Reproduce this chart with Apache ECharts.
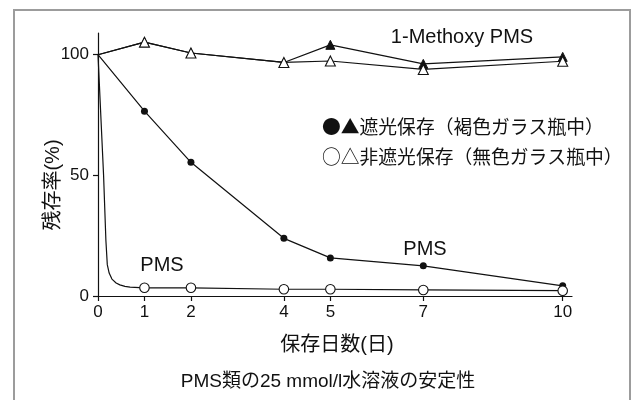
<!DOCTYPE html>
<html>
<head>
<meta charset="utf-8">
<script src="https://cdn.jsdelivr.net/npm/echarts@6/dist/echarts.min.js"></script>
<style>
  html, body { margin: 0; padding: 0; background: #fff; }
  #chart { width: 632px; height: 400px; }
</style>
</head>
<body>
<div id="chart"></div>
<script>
// Storage days at which samples were measured
const days = [0, 1, 2, 4, 5, 7, 10];
// Residual ratio (%) — PMS, stored in brown glass (shielded from light)
const pmsShielded = [100, 76.6, 55.4, 23.9, 15.8, 12.5, 4.2];
// Residual ratio (%) — PMS, stored in clear glass (day 1 onward)
const pmsExposedDays = [1, 2, 4, 5, 7, 10];
const pmsExposed = [3.4, 3.4, 2.8, 2.8, 2.5, 2.2];
// Rapid initial decay of unshielded PMS during the first day
const pmsDecayDays = [0, 0.12, 0.17, 0.2, 0.24, 0.3, 0.39, 0.47, 0.58, 0.69, 1];
const pmsDecayValues = [100, 50, 23, 13, 9.5, 7, 5.4, 4.6, 4.0, 3.7, 3.4];
// Residual ratio (%) — 1-Methoxy PMS
const methoxyShielded = [100, 105.2, 100.7, 96.8, 104.1, 96.2, 99.1];
const methoxyExposed = [100, 105.2, 100.7, 96.8, 97.4, 93.9, 97.3];
// Axis tick labels
const xTicks = [0, 1, 2, 4, 5, 7, 10];
const yTicks = [0, 50, 100];

const FONT = '"Liberation Sans", Arial, "Noto Sans CJK JP", sans-serif';
const CJK_FONT = '"Noto Sans CJK JP", "Liberation Sans", sans-serif';
const INK = '#111';

function pairs(xs, ys, hideFirst) {
  return xs.map((x, i) => {
    const item = { value: [x, ys[i]] };
    if (hideFirst && i === 0) item.symbol = 'none';
    return item;
  });
}

function label(text, x, y, font, align, extra) {
  return Object.assign({
    type: 'text', x: x, y: y,
    style: { text: text, font: font, fill: INK, align: align || 'center', verticalAlign: 'middle' }
  }, extra || {});
}

const chart = echarts.init(document.getElementById('chart'), null, { renderer: 'canvas' });

const lineStyle = { color: INK, width: 1.2 };

chart.setOption({
  animation: false,
  backgroundColor: '#fff',
  grid: { left: 98, right: 60, top: 33, bottom: 104, containLabel: false },
  xAxis: {
    type: 'value', min: 0, max: 10.2,
    axisLine: { show: true, onZero: true, lineStyle: { color: INK, width: 1.2 } },
    axisTick: { show: true, inside: false, length: 5, customValues: xTicks, lineStyle: { color: INK, width: 1.2 } },
    axisLabel: { customValues: xTicks, color: INK, fontSize: 17, fontFamily: FONT, margin: 8 },
    splitLine: { show: false }
  },
  yAxis: {
    type: 'value', min: 0, max: 109,
    axisLine: { show: true, onZero: false, lineStyle: { color: INK, width: 1.2 } },
    axisTick: { show: true, inside: false, length: 5, customValues: yTicks, lineStyle: { color: INK, width: 1.2 } },
    axisLabel: { customValues: yTicks, color: INK, fontSize: 17, fontFamily: FONT, margin: 9 },
    splitLine: { show: false }
  },
  series: [
    {
      name: '1-Methoxy PMS 遮光', type: 'line', z: 2,
      data: pairs(days, methoxyShielded, true),
      symbol: 'triangle', symbolSize: 9,
      itemStyle: { color: INK, borderColor: INK, borderWidth: 1 },
      lineStyle
    },
    {
      name: '1-Methoxy PMS 非遮光', type: 'line', z: 3,
      data: pairs(days, methoxyExposed, true),
      symbol: 'triangle', symbolSize: 10,
      itemStyle: { color: '#fff', borderColor: INK, borderWidth: 1.1 },
      lineStyle
    },
    {
      name: 'PMS 遮光', type: 'line', z: 2,
      data: pairs(days, pmsShielded, true),
      symbol: 'circle', symbolSize: 7,
      itemStyle: { color: INK, borderColor: INK, borderWidth: 0 },
      lineStyle
    },
    {
      name: 'PMS 非遮光 初期', type: 'line', z: 2,
      data: pairs(pmsDecayDays, pmsDecayValues, false),
      symbol: 'none', smooth: false,
      lineStyle: { color: INK, width: 1.2, join: 'round' }
    },
    {
      name: 'PMS 非遮光', type: 'line', z: 3,
      data: pairs(pmsExposedDays, pmsExposed, false),
      symbol: 'circle', symbolSize: 9.5,
      itemStyle: { color: '#fff', borderColor: INK, borderWidth: 1.1 },
      lineStyle
    }
  ],
  graphic: [
    {
      type: 'rect', z: -1, silent: true,
      shape: { x: 14, y: 10, width: 616, height: 420 },
      style: { fill: 'none', stroke: '#9c9c9c', lineWidth: 2 }
    },
    label('1-Methoxy PMS', 462, 37, '20px ' + FONT),
    label('●▲遮光保存（褐色ガラス瓶中）', 322, 127, '18.8px ' + CJK_FONT, 'left'),
    label('○△非遮光保存（無色ガラス瓶中）', 322, 157, '18.8px ' + CJK_FONT, 'left'),
    label('PMS', 162, 265, '20px ' + FONT),
    label('PMS', 425, 249, '20px ' + FONT),
    label('保存日数(日)', 337, 345, '20px ' + FONT),
    label('残存率(%)', 53, 185, '20px ' + FONT, 'center', { rotation: Math.PI / 2 }),
    label('PMS類の25 mmol/l水溶液の安定性', 328, 382, '19px ' + FONT)
  ]
});
</script>
</body>
</html>
